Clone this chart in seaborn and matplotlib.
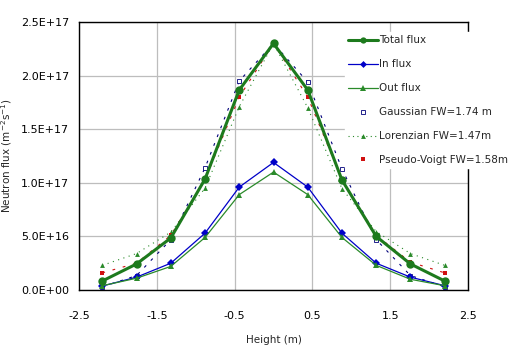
import matplotlib
matplotlib.use("Agg")
import matplotlib.pyplot as plt
from matplotlib.lines import Line2D
from matplotlib.ticker import FuncFormatter, MultipleLocator
import seaborn as sns
import pandas as pd

# Axial positions of the measurement points (m)
height = [-2.2, -1.76, -1.32, -0.88, -0.44, 0.0, 0.44, 0.88, 1.32, 1.76, 2.2]

# Measured fluxes (m^-2 s^-1)
total_flux = [0.084e17, 0.243e17, 0.485e17, 1.035e17, 1.866e17, 2.30e17,
              1.866e17, 1.026e17, 0.50e17, 0.243e17, 0.084e17]
in_flux = [0.037e17, 0.12e17, 0.25e17, 0.53e17, 0.96e17, 1.19e17,
           0.96e17, 0.53e17, 0.25e17, 0.12e17, 0.04e17]
out_flux = [0.04e17, 0.11e17, 0.22e17, 0.49e17, 0.89e17, 1.10e17,
            0.89e17, 0.49e17, 0.23e17, 0.10e17, 0.04e17]

# Fitted profiles
gaussian = [0.03e17, 0.135e17, 0.47e17, 1.14e17, 1.95e17, 2.30e17,
            1.94e17, 1.13e17, 0.47e17, 0.135e17, 0.03e17]
lorenzian = [0.23e17, 0.34e17, 0.54e17, 0.95e17, 1.71e17, 2.30e17,
             1.70e17, 0.945e17, 0.545e17, 0.34e17, 0.23e17]
pseudo_voigt = [0.16e17, 0.25e17, 0.51e17, 1.03e17, 1.80e17, 2.30e17,
                1.80e17, 1.03e17, 0.51e17, 0.26e17, 0.16e17]

labels = ["Total flux", "In flux", "Out flux",
          "Gaussian FW=1.74 m", "Lorenzian FW=1.47m", "Pseudo-Voigt FW=1.58m"]

df = pd.DataFrame({"height": height, "total": total_flux, "in": in_flux,
                   "out": out_flux, "gauss": gaussian, "lor": lorenzian,
                   "pv": pseudo_voigt})

sns.set_style("white")
plt.rcParams["font.family"] = ["DejaVu Sans"]
fs = 7.5
fs_tick = 8

fig = plt.figure(figsize=(5.15, 3.48), dpi=100)
ax = fig.add_axes([79 / 515, 1 - 290 / 348, (468 - 79) / 515, (290 - 22) / 348])

c_total = "#1d7a1d"
c_in = "#0000c8"
c_out = "#2a8a2a"
c_gauss = "#00007a"
c_lor = "#2a8a2a"
c_pv = "#d01010"

common = dict(x="height", data=df, ax=ax, estimator=None, sort=False, legend=False)

sns.lineplot(y="gauss", color=c_gauss, lw=0.8, linestyle=(0, (2.5, 6)),
             marker="s", markersize=3, markeredgewidth=0.6,
             markerfacecolor="white", markeredgecolor=c_gauss, zorder=2, **common)
sns.lineplot(y="lor", color=c_lor, lw=0.8, linestyle=(0, (1, 4)),
             marker="^", markersize=3.5, markeredgewidth=0, zorder=2, **common)
sns.lineplot(y="pv", color=c_pv, lw=0.8, linestyle=(0, (2.5, 7)),
             marker="s", markersize=2.8, markeredgewidth=0, zorder=2, **common)
sns.lineplot(y="in", color=c_in, lw=0.9, marker="D", markersize=4.5,
             markeredgewidth=0, zorder=3, **common)
sns.lineplot(y="out", color=c_out, lw=0.9, marker="^", markersize=4.5,
             markeredgewidth=0, zorder=3, **common)
sns.lineplot(y="total", color=c_total, lw=2.2, marker="o", markersize=6,
             markeredgewidth=0, zorder=4, **common)

ax.set_xlim(-2.5, 2.5)
ax.set_ylim(0, 2.5e17)
ax.set_xticks([-2.5, -1.5, -0.5, 0.5, 1.5, 2.5])
ax.set_xticks([-2.0, -1.0, 0.0, 1.0, 2.0], minor=True)
ax.yaxis.set_major_locator(MultipleLocator(0.5e17))
ax.yaxis.set_major_formatter(FuncFormatter(lambda v, p: f"{v:.1E}"))
ax.xaxis.set_major_formatter(FuncFormatter(lambda v, p: f"{v:.1f}"))

ax.grid(True, which="major", color="#bdbdbd", lw=0.9)
ax.set_axisbelow(True)
for s in ax.spines.values():
    s.set_color("black")
    s.set_linewidth(1.0)

ax.tick_params(axis="both", which="major", labelsize=fs_tick, colors="black",
               length=3, width=0.8, direction="out")
ax.tick_params(axis="x", which="major", length=0, pad=15)
ax.tick_params(axis="x", which="minor", length=4, width=0.8,
               direction="in", color="#bdbdbd")
ax.tick_params(axis="y", which="major", pad=4)

ax.set_xlabel("Height (m)", fontsize=fs, labelpad=10)
ax.set_ylabel("Neutron flux (m$^{-2}$s$^{-1}$)", fontsize=fs)
# centre the y label 13 px from the figure's left edge
ax.yaxis.set_label_coords((14 - 79) / (468 - 79), 0.5)

handles = [
    Line2D([], [], color=c_total, lw=2.2, marker="o", markersize=4.5, markeredgewidth=0),
    Line2D([], [], color=c_in, lw=0.9, marker="D", markersize=3.5, markeredgewidth=0),
    Line2D([], [], color=c_out, lw=0.9, marker="^", markersize=4, markeredgewidth=0),
    Line2D([], [], color=c_gauss, ls="none", marker="s", markersize=3,
           markeredgewidth=0.6, markerfacecolor="white", markeredgecolor=c_gauss),
    Line2D([], [], color=c_lor, lw=0.8, ls=(0, (1, 3)), marker="^",
           markersize=3.5, markeredgewidth=0),
    Line2D([], [], color=c_pv, ls="none", marker="s", markersize=2.8, markeredgewidth=0),
]
leg = fig.legend(handles, labels, loc="upper left",
                 bbox_to_anchor=(340 / 515, 1 - 27 / 348),
                 fontsize=fs, frameon=True, facecolor="white", edgecolor="white",
                 framealpha=1, fancybox=False, handlelength=2.8,
                 handletextpad=0.15, labelspacing=1.34, borderpad=0.3,
                 numpoints=1)
leg.set_zorder(10)

fig.savefig("out.png", dpi=100, facecolor="white")
